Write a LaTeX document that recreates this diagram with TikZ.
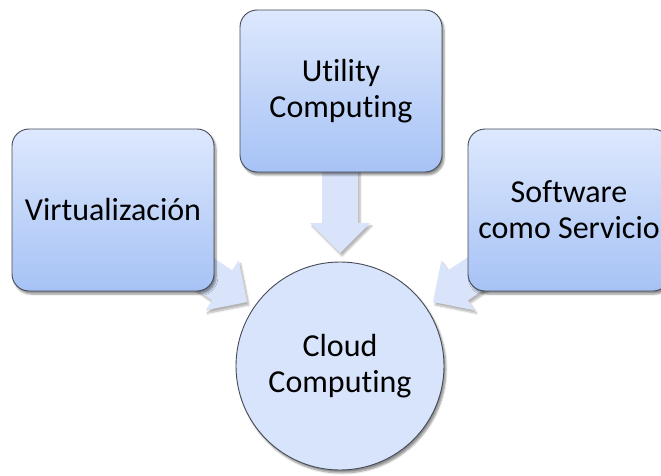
\documentclass[tikz,border=0pt]{standalone}
\usepackage{fontspec}
\setmainfont{Carlito}[Ligatures={NoCommon}]
\usetikzlibrary{shadows.blur}
\definecolor{boxtop}{HTML}{DDE8FD}
\definecolor{boxbot}{HTML}{A6C2F5}
\definecolor{arrowfill}{HTML}{D9E4FB}
\definecolor{circfill}{HTML}{D8E4FB}
\definecolor{edgecol}{HTML}{454A55}
\tikzset{
  x=1pt,y=1pt,
  bluebox/.style={draw=edgecol, line width=0.9pt, rounded corners=17pt,
    top color=boxtop, bottom color=boxbot, minimum width=202pt, minimum height=162pt,
    align=center, font=\fontsize{32}{36}\selectfont,
    blur shadow={shadow xshift=2pt, shadow yshift=-3pt, shadow blur steps=6, shadow opacity=45}},
  bluecircle/.style={circle, draw=edgecol, line width=0.9pt, fill=circfill, minimum size=208pt,
    align=center, font=\fontsize{32}{36}\selectfont,
    blur shadow={shadow xshift=2pt, shadow yshift=-3pt, shadow blur steps=6, shadow opacity=45}},
  blockarrow/.style={fill=arrowfill,
    blur shadow={shadow xshift=2pt, shadow yshift=-3pt, shadow blur steps=6, shadow opacity=30}}
}
\newcommand{\blockarr}[3]{% tip x, tip y, angle
  \begin{scope}[shift={(#1,#2)}, rotate=#3]
    \fill[blockarrow] (0,0) -- (-30,30) -- (-30,18) -- (-110,18) -- (-110,-18) -- (-30,-18) -- (-30,-30) -- cycle;
  \end{scope}}
\begin{document}
\begin{tikzpicture}
\useasboundingbox (0,0) rectangle (661,475);
\clip (0,0) rectangle (661,475);
\blockarr{340}{222}{-90}
\blockarr{247}{173}{-33.7}
\blockarr{433}{173}{-146.3}
\node[bluebox] (util) at (341,384) {Utility\\Computing};
\node[bluebox] (virt) at (113,265) {Virtualización};
\node[bluebox] (soft) at (569,265) {Software\\como Servicio};
\node[bluecircle] (cloud) at (340,109) {Cloud\\Computing};
\end{tikzpicture}
\end{document}
